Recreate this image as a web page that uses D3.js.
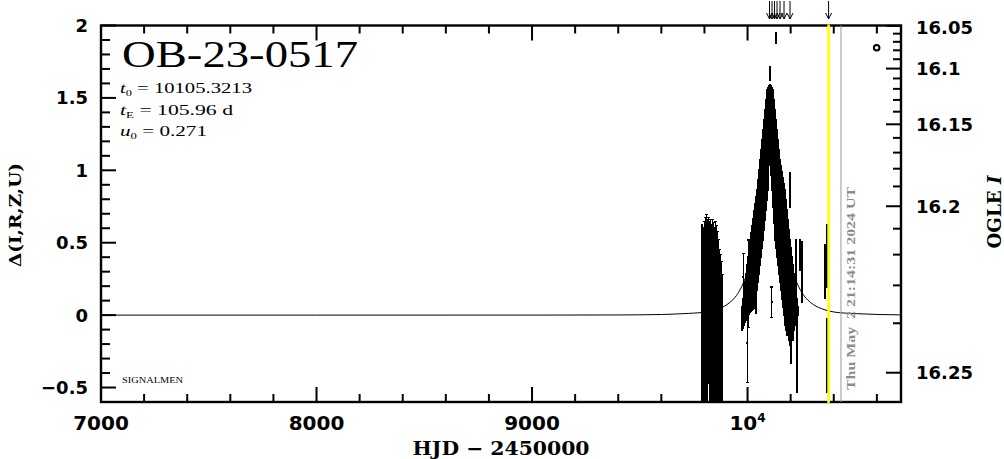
<!DOCTYPE html>
<html><head><meta charset="utf-8">
<script src="https://cdn.jsdelivr.net/npm/d3@7"></script>
<style>body{margin:0;background:#fff}svg{display:block}</style>
</head><body><svg id="c" width="1004" height="459"></svg>
<script>
// ---------------- data ----------------
const eventName = "OB-23-0517";
const paramLines = [["t", "0", " = 10105.3213"], ["t", "E", " = 105.96 d"], ["u", "0", " = 0.271"]];
const xTickMajor = [7000, 8000, 9000, 10000];
const xTickLabels = ["7000", "8000", "9000", "10"];
const yTickMajor = [-0.5, 0, 0.5, 1, 1.5, 2];
const yTickLabels = ["\u22120.5", "0", "0.5", "1", "1.5", "2"];
const magTickMajor = [16.05, 16.1, 16.15, 16.2, 16.25];
const magTickLabels = ["16.05", "16.1", "16.15", "16.2", "16.25"];
const alertTimes = [10102, 10113.6, 10125.2, 10136.8, 10150.7, 10169.2, 10197, 10376];
const lastObsTime = 10376;
const nowTime = 10433.5;
const dateStamp = "Thu May  2 21:14:31 2024 UT";
const legendMarker = [10599, 1.846];

// model curve: [HJD-2450000, delta]
const modelCurve = [
  [7000, 0], [8000, 0], [9000, 0.0002], [9400, 0.0011], [9600, 0.0043], [9700, 0.0101],
  [9800, 0.0205], [9855, 0.0385], [9905, 0.0731], [9930, 0.1035], [9955, 0.1494],
  [9975, 0.2034], [9995, 0.280], [10015, 0.390], [10030, 0.502], [10045, 0.650],
  [10055, 0.772], [10065, 0.915], [10075, 1.077], [10085, 1.246], [10095, 1.389],
  [10105, 1.447], [10115, 1.389], [10125, 1.246], [10135, 1.077], [10145, 0.915],
  [10155, 0.772], [10165, 0.650], [10180, 0.502], [10195, 0.390], [10215, 0.280],
  [10235, 0.2034], [10255, 0.1494], [10280, 0.1035], [10305, 0.0731], [10355, 0.0385],
  [10405, 0.0205], [10505, 0.0101], [10605, 0.0043], [10712, 0.0016]
];

// observations: [HJD-2450000, delta, errLow, errHigh]
const season2022 = [
  [9787.5, 0.05, 0.95, 0.574], [9791.2, 0.05, 0.95, 0.525], [9795.8, 0.05, 0.95, 0.553],
  [9800.5, 0.05, 0.95, 0.595], [9805.1, 0.05, 0.95, 0.622], [9809.8, 0.05, 0.95, 0.643],
  [9814.4, 0.05, 0.95, 0.608], [9819.0, 0.05, 0.52, 0.622], [9823.7, 0.05, 0.95, 0.595],
  [9828.3, 0.05, 0.95, 0.608], [9833.0, 0.05, 0.95, 0.574], [9837.6, 0.05, 0.95, 0.608],
  [9842.2, 0.05, 0.95, 0.587], [9846.9, 0.05, 0.95, 0.553], [9851.5, 0.05, 0.95, 0.595],
  [9856.2, 0.05, 0.95, 0.567], [9860.8, 0.05, 0.95, 0.525], [9865.4, 0.05, 0.95, 0.470],
  [9870.1, 0.05, 0.95, 0.401], [9874.7, 0.05, 0.95, 0.366], [9879.4, 0.05, 0.95, 0.318],
  [9883.1, 0.05, 0.95, 0.228]
];

const season2023 = [
  [9974.5, -0.024, 0.080, 0.080], [9979.1, 0.011, 0.100, 0.100], [9980.5, 0.266, 0.162, 0.162],
  [9983.8, 0.053, 0.121, 0.121], [9988.4, 0.091, 0.139, 0.139], [9993.0, 0.125, 0.159, 0.159],
  [9997.7, 0.163, 0.183, 0.183], [9999.0, -0.192, 0.276, 0.276], [10002.3, 0.198, 0.204, 0.204],
  [10003.7, 0.218, 0.301, 0.301], [10007.0, 0.236, 0.228, 0.228], [10011.6, 0.270, 0.249, 0.249],
  [10012.4, 0.332, 0.138, 0.138], [10016.2, 0.298, 0.270, 0.270], [10020.9, 0.325, 0.290, 0.290],
  [10025.5, 0.353, 0.311, 0.311], [10030.2, 0.384, 0.335, 0.335], [10034.8, 0.412, 0.356, 0.356],
  [10038.0, 0.163, 0.148, 0.148], [10039.4, 0.464, 0.353, 0.353], [10044.1, 0.519, 0.345, 0.345],
  [10048.7, 0.581, 0.352, 0.352], [10053.4, 0.643, 0.359, 0.359], [10058.0, 0.709, 0.363, 0.363],
  [10062.6, 0.771, 0.370, 0.370], [10067.3, 0.836, 0.373, 0.373], [10071.9, 0.899, 0.380, 0.380],
  [10076.6, 0.968, 0.380, 0.380], [10081.2, 1.037, 0.380, 0.380], [10085.8, 1.106, 0.380, 0.380],
  [10090.5, 1.175, 0.380, 0.380], [10095.1, 1.216, 0.352, 0.352], [10099.8, 1.309, 0.273, 0.273],
  [10104.4, 1.365, 0.225, 0.225], [10104.5, 1.668, 0.045, 0.045], [10109.0, 1.275, 0.307, 0.307],
  [10112.0, 0.090, 0.104, 0.104], [10113.7, 1.216, 0.352, 0.352], [10118.3, 1.151, 0.404, 0.404],
  [10123.0, 1.061, 0.425, 0.425], [10127.6, 0.968, 0.449, 0.449], [10132.2, 0.905, 0.442, 0.442],
  [10132.3, 1.914, 0.035, 0.035], [10136.9, 0.840, 0.439, 0.439], [10141.5, 0.778, 0.432, 0.432],
  [10146.2, 0.712, 0.428, 0.428], [10150.8, 0.650, 0.421, 0.421], [10155.4, 0.602, 0.428, 0.428],
  [10160.1, 0.550, 0.439, 0.439], [10164.7, 0.502, 0.446, 0.446], [10169.4, 0.453, 0.452, 0.452],
  [10174.0, 0.398, 0.466, 0.466], [10178.6, 0.346, 0.449, 0.449], [10183.3, 0.294, 0.432, 0.432],
  [10187.9, 0.277, 0.380, 0.380], [10192.6, 0.208, 0.380, 0.380], [10197.0, 0.864, 0.117, 0.117],
  [10197.2, 0.156, 0.363, 0.363], [10201.8, 0.066, 0.397, 0.397], [10206.5, 0.132, 0.270, 0.270],
  [10211.1, 0.087, 0.259, 0.259], [10215.8, 0.091, 0.194, 0.194], [10220.4, 0.098, 0.132, 0.132],
  [10225.0, 0.053, 0.121, 0.121], [10225.6, 0.312, 0.207, 0.207], [10229.7, -0.210, 0.321, 0.321],
  [10234.3, 0.029, 0.028, 0.028], [10243.6, 0.415, 0.104, 0.104], [10251.5, 0.298, 0.207, 0.207]
];

const season2024 = [
  [10359.3, 0.301, 0.183, 0.186],
  [10368.0, 0.410, 0.222, 0.214],
  [10367.6, -0.287, 0.250, 0.266]
];

// ---------------- drawing ----------------
const svg = d3.select("#c");
svg.append("rect").attr("width", 1004).attr("height", 459).attr("fill", "#fff");

const L = 101, R = 901, T = 25.5, B = 402;
const xs = d3.scaleLinear().domain([7000, 10712]).range([L, R]);
const ys = d3.scaleLinear().domain([-0.6, 2.0]).range([B, T]);
const magToDelta = m => 2.5 * Math.log10(0.6932 + 27.7 * (Math.pow(10, -0.4 * (m - 16.25)) - 1));

svg.append("clipPath").attr("id", "clip").append("rect")
  .attr("x", L).attr("y", T).attr("width", R - L).attr("height", B - T);

const plot = svg.append("g").attr("clip-path", "url(#clip)");

// model curve
plot.append("path").datum(modelCurve)
  .attr("fill", "none").attr("stroke", "#000").attr("stroke-width", 1)
  .attr("d", d3.line().x(d => xs(d[0])).y(d => ys(d[1])).curve(d3.curveMonotoneX));

// observations
const obs = season2022.concat(season2023, season2024);
const og = plot.append("g").attr("stroke", "#000").attr("fill", "#000").attr("shape-rendering", "crispEdges");
obs.forEach(d => {
  const x = xs(d[0]), y1 = ys(d[1] - d[2]), y2 = ys(d[1] + d[3]), yc = ys(d[1]);
  og.append("line").attr("x1", x).attr("x2", x).attr("y1", y1).attr("y2", y2).attr("stroke-width", 1.6);
  og.append("line").attr("x1", x - 1.2).attr("x2", x + 1.2).attr("y1", y1).attr("y2", y1).attr("stroke-width", 1.2);
  og.append("line").attr("x1", x - 1.2).attr("x2", x + 1.2).attr("y1", y2).attr("y2", y2).attr("stroke-width", 1.2);
  og.append("rect").attr("x", x - 1).attr("y", yc - 1).attr("width", 2).attr("height", 2).attr("stroke", "none");
});

// legend marker (open circle)
plot.append("circle").attr("cx", xs(legendMarker[0])).attr("cy", ys(legendMarker[1])).attr("r", 2.8)
  .attr("fill", "none").attr("stroke", "#000").attr("stroke-width", 2);

// frame and ticks
const ax = svg.append("g").attr("stroke", "#000");
ax.append("rect").attr("x", L).attr("y", T).attr("width", R - L).attr("height", B - T)
  .attr("fill", "none").attr("stroke-width", 2.4);

const xMinor = d3.range(7200, 10712, 200).filter(v => v % 1000 !== 0);
xTickMajor.forEach(v => {
  ax.append("line").attr("x1", xs(v)).attr("x2", xs(v)).attr("y1", B).attr("y2", B - 15).attr("stroke-width", 2);
  ax.append("line").attr("x1", xs(v)).attr("x2", xs(v)).attr("y1", T).attr("y2", T + 15).attr("stroke-width", 2);
});
xMinor.forEach(v => {
  ax.append("line").attr("x1", xs(v)).attr("x2", xs(v)).attr("y1", B).attr("y2", B - 8).attr("stroke-width", 2);
  ax.append("line").attr("x1", xs(v)).attr("x2", xs(v)).attr("y1", T).attr("y2", T + 8).attr("stroke-width", 2);
});
const yMinor = d3.range(-6, 21).map(v => v / 10).filter(v => Math.abs(v * 2 - Math.round(v * 2)) > 1e-6);
yTickMajor.forEach(v => {
  ax.append("line").attr("x1", L).attr("x2", L + 15).attr("y1", ys(v)).attr("y2", ys(v)).attr("stroke-width", 2);
});
yMinor.forEach(v => {
  ax.append("line").attr("x1", L).attr("x2", L + 9).attr("y1", ys(v)).attr("y2", ys(v)).attr("stroke-width", 2);
});
const magMinor = d3.range(1605, 1626).map(v => v / 100).filter(v => Math.round(v * 100) % 5 !== 0);
magTickMajor.forEach(m => {
  const y = ys(magToDelta(m));
  ax.append("line").attr("x1", R).attr("x2", R - 15).attr("y1", y).attr("y2", y).attr("stroke-width", 2);
});
magMinor.forEach(m => {
  const y = ys(magToDelta(m));
  if (y > T && y < B) ax.append("line").attr("x1", R).attr("x2", R - 8).attr("y1", y).attr("y2", y).attr("stroke-width", 2);
});

// current-date and last-observation lines
svg.append("line").attr("x1", xs(nowTime)).attr("x2", xs(nowTime)).attr("y1", T).attr("y2", B)
  .attr("stroke", "#999").attr("stroke-width", 1);
svg.append("line").attr("x1", xs(lastObsTime)).attr("x2", xs(lastObsTime)).attr("y1", T - 1).attr("y2", B + 1)
  .attr("stroke", "#ffff00").attr("stroke-width", 2.6);

// alert arrows
const ar = svg.append("g").attr("stroke", "#000").attr("stroke-width", 1).attr("fill", "none");
alertTimes.forEach(t => {
  const x = xs(t);
  ar.append("line").attr("x1", x).attr("x2", x).attr("y1", 1).attr("y2", 19);
  ar.append("polyline").attr("points", `${x - 3},13 ${x},19 ${x + 3},13`);
});

// tick labels
const tickFont = "'DejaVu Sans', sans-serif";
xTickMajor.forEach((v, i) => {
  const t = svg.append("text").attr("x", xs(v)).attr("y", 430).attr("text-anchor", "middle")
    .attr("font-family", tickFont).attr("font-weight", "bold").attr("font-size", 20);
  if (v === 10000) {
    t.append("tspan").text(xTickLabels[i]);
    t.append("tspan").attr("dy", -8).attr("font-size", 12).text("4");
  } else t.text(xTickLabels[i]);
});
yTickMajor.forEach((v, i) => {
  svg.append("text").attr("x", 88).attr("y", ys(v)).attr("dy", "0.36em").attr("text-anchor", "end")
    .attr("font-family", tickFont).attr("font-weight", "bold").attr("font-size", 18).text(yTickLabels[i]);
});
magTickMajor.forEach((m, i) => {
  svg.append("text").attr("x", 916).attr("y", Math.max(ys(magToDelta(m)), 27.5)).attr("dy", "0.36em")
    .attr("font-family", tickFont).attr("font-weight", "bold").attr("font-size", 18).text(magTickLabels[i]);
});

// axis titles
svg.append("text").attr("x", 501).attr("y", 455).attr("text-anchor", "middle")
  .attr("font-family", "'DejaVu Serif', serif").attr("font-weight", "bold").attr("font-size", 19)
  .attr("textLength", 177).attr("lengthAdjust", "spacingAndGlyphs").text("HJD \u2212 2450000");
svg.append("text").attr("transform", "translate(21,215) rotate(-90)").attr("text-anchor", "middle")
  .attr("font-family", "'DejaVu Serif', serif").attr("font-weight", "bold").attr("font-size", 17)
  .attr("textLength", 104).attr("lengthAdjust", "spacingAndGlyphs").text("\u0394(I,R,Z,U)");
const ogle = svg.append("text").attr("transform", "translate(1001,212) rotate(-90)").attr("text-anchor", "middle")
  .attr("font-family", "'DejaVu Serif', serif").attr("font-weight", "bold").attr("font-size", 18)
  .attr("textLength", 73).attr("lengthAdjust", "spacingAndGlyphs");
ogle.append("tspan").text("OGLE ");
ogle.append("tspan").attr("font-style", "italic").text("I");

// title and parameters
svg.append("text").attr("x", 122).attr("y", 67)
  .attr("font-family", "'Liberation Serif', serif").attr("font-size", 37)
  .attr("textLength", 236).attr("lengthAdjust", "spacingAndGlyphs").text(eventName);
const paramY = [93, 114.5, 136];
const paramLen = [132, 113, 87];
paramLines.forEach((p, i) => {
  const t = svg.append("text").attr("x", 120).attr("y", paramY[i])
    .attr("font-family", "'Liberation Serif', serif").attr("font-size", 15)
    .attr("textLength", paramLen[i]).attr("lengthAdjust", "spacingAndGlyphs");
  t.append("tspan").attr("font-style", "italic").text(p[0]);
  t.append("tspan").attr("dy", 3).attr("font-size", 9).text(p[1]);
  t.append("tspan").attr("dy", -3).text(p[2]);
});
svg.append("text").attr("x", 122).attr("y", 383)
  .attr("font-family", "'Liberation Serif', serif").attr("font-size", 9)
  .attr("textLength", 61).attr("lengthAdjust", "spacingAndGlyphs").text("SIGNALMEN");

// date stamp
svg.append("text").attr("transform", "translate(855,390) rotate(-90)")
  .attr("font-family", "'Liberation Serif', serif").attr("font-weight", "bold").attr("font-size", 12)
  .attr("fill", "#8c8c8c").style("white-space", "pre")
  .attr("textLength", 203).attr("lengthAdjust", "spacingAndGlyphs").text(dateStamp);
</script></body></html>
